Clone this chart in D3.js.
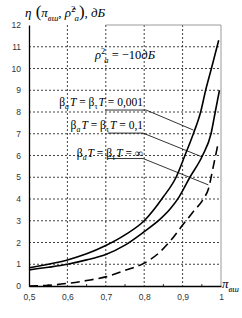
<!DOCTYPE html>
<html><head><meta charset="utf-8">
<script src="https://cdn.jsdelivr.net/npm/d3@7"></script>
<style>body{margin:0;background:#fff}svg{display:block}</style>
</head><body><svg id="c" width="242" height="318"></svg>
<script>
// ---- data ----
const xTicks = [0.5, 0.6, 0.7, 0.8, 0.9, 1];
const xTickLabels = ["0,5", "0,6", "0,7", "0,8", "0,9", "1"];
const yTicks = [0, 1, 2, 3, 4, 5, 6, 7, 8, 9, 10, 11, 12];
const xMinorTicks = [0.55, 0.65, 0.75, 0.85, 0.95];

const pi001 = [0.5, 0.55, 0.6, 0.65, 0.7, 0.75, 0.8, 0.85, 0.883, 0.906, 0.928, 0.947, 0.96, 0.975, 0.994];
const eta001 = [0.84, 1.0, 1.2, 1.48, 1.86, 2.35, 3.0, 4.1, 5.0, 6.0, 7.0, 8.0, 9.0, 10.0, 11.3];

const pi01 = [0.5, 0.55, 0.6, 0.65, 0.7, 0.75, 0.8, 0.84, 0.868, 0.891, 0.919, 0.952, 0.974, 0.985, 0.996];
const eta01 = [0.74, 0.86, 1.0, 1.2, 1.45, 1.88, 2.5, 3.05, 3.55, 4.1, 5.0, 6.0, 7.0, 8.0, 9.0];

const piInf = [0.5, 0.55, 0.6, 0.65, 0.7, 0.75, 0.8, 0.837, 0.867, 0.9, 0.927, 0.954, 0.967, 0.98, 0.993];
const etaInf = [0.0, 0.03, 0.12, 0.25, 0.42, 0.72, 1.05, 1.5, 2.05, 2.8, 3.4, 4.0, 4.45, 5.5, 6.6];

const seriesValues = ["0,001", "0,1", "∞"];
// annotation anchors (data coords): underline start, label end / leader start, leader end on curve
const leaderStartPi = [0.805, 0.797, 0.797];
const leaderStartEta = [8.09, 7.03, 5.86];
const leaderEndPi = [0.928, 0.95, 0.967];
const leaderEndEta = [7.17, 5.94, 4.65];
const underlineFromPi = [0.70, 0.705, 0.705];

// ---- layout ----
const svg = d3.select("#c");
const x = d3.scaleLinear().domain([0.5, 1]).range([29, 221]);
const y = d3.scaleLinear().domain([0, 12]).range([286, 25]);
const serif = "'Liberation Serif','Times New Roman',serif";
const sans = "'Liberation Sans',Arial,sans-serif";

// grid
const grid = svg.append("g").attr("stroke", "#111").attr("stroke-width", 0.8).attr("stroke-dasharray", "2,2");
grid.selectAll("line.v").data(xTicks.slice(1, -1)).join("line")
  .attr("x1", d => x(d)).attr("x2", d => x(d)).attr("y1", y(12)).attr("y2", y(0));
grid.selectAll("line.h").data(yTicks.slice(1, -1)).join("line")
  .attr("x1", x(0.5)).attr("x2", x(1)).attr("y1", d => y(d)).attr("y2", d => y(d));

// frame (grey right/top)
svg.append("line").attr("x1", x(1)).attr("x2", x(1)).attr("y1", y(12)).attr("y2", y(0))
  .attr("stroke", "#9a9a9a").attr("stroke-width", 1);
svg.append("line").attr("x1", x(0.7)).attr("x2", x(1)).attr("y1", y(12)).attr("y2", y(12))
  .attr("stroke", "#9a9a9a").attr("stroke-width", 1);

// axes
const xAxis = d3.axisBottom(x).tickValues(xTicks).tickSize(0).tickPadding(8)
  .tickFormat((d, i) => xTickLabels[i]);
const gx = svg.append("g").attr("transform", `translate(0,${y(0)})`).call(xAxis);
gx.select(".domain").attr("stroke", "#000").attr("stroke-width", 1.3);
gx.selectAll("text").attr("font-family", sans).attr("font-size", 8.5).attr("fill", "#333");

const yAxis = d3.axisLeft(y).tickValues(yTicks).tickSize(0).tickPadding(8).tickFormat(d3.format("d"));
const gy = svg.append("g").attr("transform", `translate(${x(0.5)},0)`).call(yAxis);
gy.select(".domain").attr("stroke", "#000").attr("stroke-width", 1.3);
gy.selectAll("text").attr("font-family", sans).attr("font-size", 8.5).attr("fill", "#333");

// minor ticks
svg.append("g").selectAll("line").data(xMinorTicks).join("line")
  .attr("x1", d => x(d)).attr("x2", d => x(d)).attr("y1", y(0)).attr("y2", y(0) - 2)
  .attr("stroke", "#000").attr("stroke-width", 0.8);

// curves
const line = d3.line().x(d => x(d[0])).y(d => y(d[1])).curve(d3.curveMonotoneX);
const series = [
  { p: d3.zip(pi001, eta001), dash: null },
  { p: d3.zip(pi01, eta01), dash: null },
  { p: d3.zip(piInf, etaInf), dash: "9,5" }
];
svg.append("g").selectAll("path").data(series).join("path")
  .attr("d", d => line(d.p)).attr("fill", "none").attr("stroke", "#000")
  .attr("stroke-width", 1.6).attr("stroke-dasharray", d => d.dash);

// rich text helper
function rich(g, px, py, anchor, parts, size, family) {
  const t = g.append("text").attr("x", px).attr("y", py).attr("text-anchor", anchor)
    .attr("font-family", family).attr("font-size", size).attr("fill", "#000");
  let cur = 0;
  parts.forEach(p => {
    const [txt, kind, extra] = p;
    let shift = 0, fs = size, it = false;
    if (kind === "i") it = true;
    if (kind === "sub") { shift = size * 0.28; fs = size * 0.68; }
    if (kind === "isub") { shift = size * 0.28; fs = size * 0.68; it = true; }
    if (kind === "sup") { shift = -size * 0.4; fs = size * 0.68; }
    if (kind === "big") { fs = size * 1.3; }
    const s = t.append("tspan").attr("dy", shift - cur).attr("font-size", fs)
      .attr("font-style", it ? "italic" : "normal").text(txt);
    if (extra) s.attr("dx", extra);
    cur = shift;
  });
  return t;
}

// labels & leaders
const ann = svg.append("g");
seriesValues.forEach((v, i) => {
  const ex = x(leaderStartPi[i]) - (i === 0 ? 3 : 0);
  const baseY = y(leaderStartEta[i]) - (i === 2 ? 2 : 4.5);
  rich(ann, ex, baseY, "end",
    [["β", "n"], ["a", "isub"], ["T", "i", 1], [" = β", "n"], ["τ", "sub"], ["T", "i", 1], [" = " + v, "n"]],
    11.5, serif);
  ann.append("line").attr("x1", x(underlineFromPi[i])).attr("x2", x(leaderStartPi[i]))
    .attr("y1", y(leaderStartEta[i])).attr("y2", y(leaderStartEta[i]))
    .attr("stroke", "#000").attr("stroke-width", 0.8);
  ann.append("line").attr("x1", x(leaderStartPi[i])).attr("y1", y(leaderStartEta[i]))
    .attr("x2", x(leaderEndPi[i])).attr("y2", y(leaderEndEta[i]))
    .attr("stroke", "#000").attr("stroke-width", 0.8);
});

// rho annotation
rich(svg, 95, 59, "start",
  [["ρ", "i"], ["2", "sup"], ["a", "isub", -1], [" = −10", "n"], ["дБ", "i"]], 12.5, serif);

// title
rich(svg, 25, 17, "start",
  [["η", "i"], [" (", "big"], ["π", "i"], ["вш", "isub"], [", ", "n"], ["ρ̂", "i"], ["2", "sup"], ["a", "isub", -1],
   [")", "big"], [", ", "n"], ["дБ", "i"]], 13, serif);

// x axis label
rich(svg, 222, 288, "start", [["π", "i"], ["вш", "isub"]], 13, serif);
</script></body></html>
